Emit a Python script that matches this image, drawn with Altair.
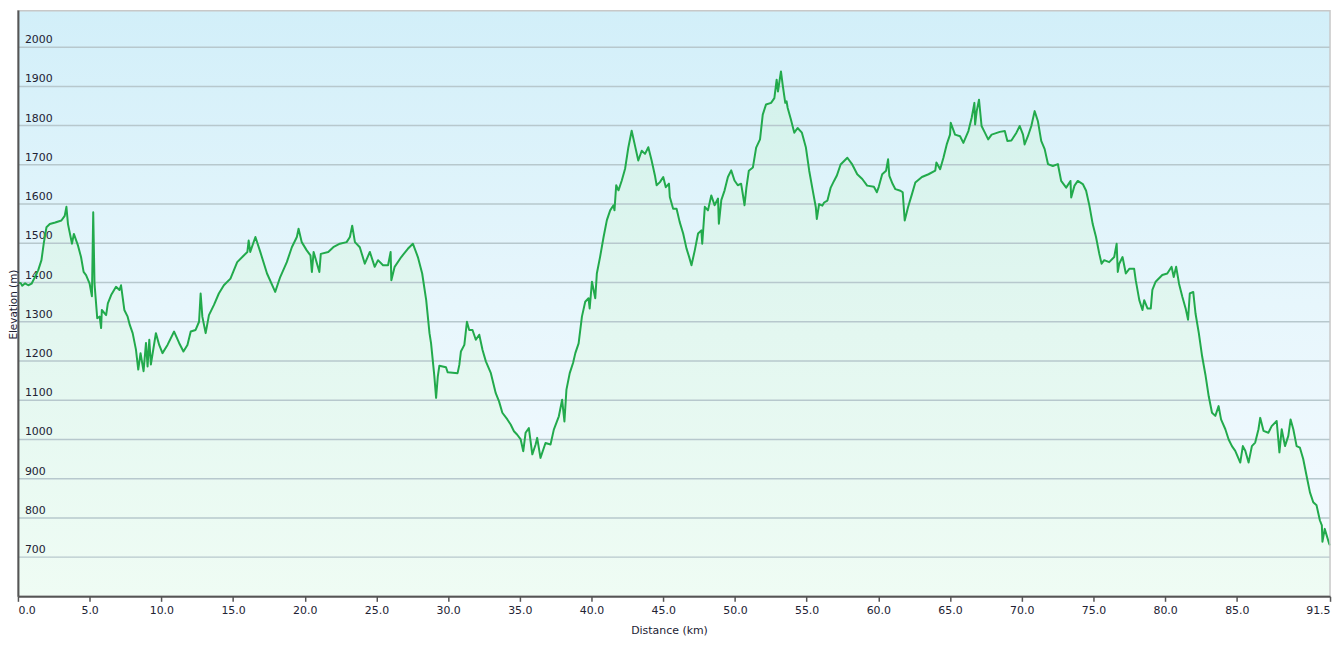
import altair as alt
import pandas as pd

# ---- data ----
km = [0.0, 0.2, 0.3, 0.5, 0.72, 0.95, 1.2, 1.41, 1.64, 1.8, 1.99, 2.22, 2.6, 3.03, 3.26, 3.38, 3.49, 3.77, 3.9,
      4.19, 4.4, 4.58, 4.75, 5.0, 5.16, 5.25, 5.34, 5.53, 5.7, 5.8, 5.85, 6.15, 6.27, 6.5, 6.84, 7.08, 7.19, 7.42,
      7.65, 7.8, 8.0, 8.23, 8.39, 8.55, 8.76, 8.93, 9.04, 9.16, 9.27, 9.62, 9.85, 10.08, 10.43, 10.89, 11.24, 11.54,
      11.82, 12.05, 12.39, 12.63, 12.74, 12.86, 13.09, 13.32, 13.67, 14.01, 14.36, 14.82, 15.29, 15.75, 16.0, 16.09,
      16.2, 16.56, 16.9, 17.37, 17.94, 18.29, 18.75, 19.1, 19.45, 19.57, 19.79, 20.14, 20.4, 20.5, 20.62, 21.02,
      21.12, 21.64, 21.99, 22.45, 22.92, 23.15, 23.31, 23.5, 23.84, 24.19, 24.54, 24.88, 25.11, 25.46, 25.81, 25.99,
      26.04, 26.27, 26.73, 27.19, 27.54, 27.89, 28.19, 28.47, 28.7,
      28.81, 29.04, 29.16, 29.28, 29.39, 29.85, 29.97, 30.66, 30.78, 30.89, 31.13, 31.31, 31.47, 31.7, 31.93, 32.17,
      32.4, 32.63, 32.98, 33.32, 33.55, 33.78, 34.13, 34.36, 34.59, 34.82, 35.06, 35.24, 35.4, 35.63, 35.87, 36.1,
      36.21, 36.44, 36.79, 37.14, 37.37, 37.72, 37.95, 38.11, 38.25, 38.48, 38.71, 38.87, 39.1, 39.33, 39.56, 39.79,
      39.87, 40.03, 40.26, 40.37, 40.6, 40.84, 41.07, 41.3, 41.53, 41.6, 41.72, 41.88, 42.11, 42.34, 42.57, 42.8,
      43.03, 43.26, 43.5, 43.73, 43.96, 44.19, 44.42, 44.54, 44.77, 45.0, 45.18, 45.4, 45.46, 45.69, 45.93, 46.15,
      46.39, 46.62, 46.8, 46.97, 47.2, 47.43, 47.66, 47.72, 47.9, 48.12, 48.35, 48.58, 48.82, 48.88, 49.05, 49.28,
      49.51, 49.74, 49.97, 50.2, 50.43, 50.55, 50.67, 50.8, 50.97, 51.25, 51.48, 51.75, 51.94,
      52.17, 52.52, 52.75, 52.91, 53.0, 53.21, 53.33, 53.51, 53.6, 53.68, 53.9, 54.14, 54.37, 54.67, 54.95, 55.18,
      55.41, 55.64, 55.71, 55.87, 56.1, 56.22, 56.45,
      56.68, 56.91, 57.1, 57.37, 57.84, 58.18, 58.53, 58.88, 59.22, 59.69, 59.9, 60.03, 60.27, 60.54, 60.68, 60.77,
      61.0, 61.19, 61.54, 61.7, 61.84, 62.07, 62.35, 62.58, 63.04, 63.5, 63.97, 64.05, 64.31, 64.54, 64.77, 65.0,
      65.05, 65.35, 65.7, 65.93, 66.28, 66.51, 66.7, 66.75, 66.86, 67.02, 67.2, 67.43, 67.66, 67.9, 68.47, 68.82,
      69.0, 69.28, 69.63, 69.86, 70.09, 70.2, 70.43, 70.67, 70.9, 71.13, 71.36, 71.6, 71.83, 72.17, 72.52, 72.75,
      73.1, 73.4, 73.45, 73.68, 73.91, 74.26, 74.49, 74.72, 74.95, 75.18, 75.41, 75.57, 75.75, 76.1, 76.45, 76.62,
      76.7, 76.8, 77.03, 77.26, 77.5, 77.84, 77.95, 78.2, 78.42, 78.54, 78.77, 79.0, 79.11, 79.34, 79.8, 80.15,
      80.45, 80.6, 80.77, 80.97, 81.2, 81.43, 81.6, 81.72, 81.96, 82.12, 82.35, 82.58, 82.81, 83.04, 83.27, 83.5,
      83.73, 83.9, 84.2, 84.43, 84.66, 84.89, 85.24, 85.42, 85.59, 85.82, 86.05, 86.28, 86.51, 86.63, 86.86, 87.2,
      87.43, 87.78, 87.97, 88.13, 88.36, 88.59, 88.75, 88.94, 89.17, 89.4, 89.63, 89.86, 90.1, 90.33, 90.56, 90.79,
      90.93, 90.97, 91.13, 91.44, 91.5]

elev = [1400, 1398, 1392, 1398, 1393, 1397, 1415, 1431, 1457, 1500, 1541, 1549, 1553, 1558, 1570, 1593, 1549, 1499, 1524,
        1494, 1465, 1427, 1419, 1397, 1365, 1579, 1397, 1309, 1313, 1284, 1330, 1317, 1347, 1368, 1389, 1381, 1393, 1330,
        1313, 1292, 1271, 1229, 1178, 1220, 1174, 1246, 1186, 1254, 1191, 1271, 1241, 1220, 1241, 1275, 1246, 1224,
        1241, 1275, 1279, 1300, 1372, 1313, 1271, 1317, 1343, 1372, 1393, 1410, 1452, 1469, 1478, 1507,
        1478, 1516, 1478, 1423, 1376, 1414, 1452, 1490, 1516, 1537, 1503, 1482, 1469, 1427, 1478, 1427,
        1473, 1478, 1490, 1499, 1503, 1516, 1545, 1503, 1490, 1448, 1478, 1440, 1457, 1444, 1444, 1478,
        1406, 1440, 1465, 1486, 1499, 1465, 1423, 1355, 1271,
        1245, 1161, 1106, 1161, 1188, 1184, 1171, 1169, 1190, 1224, 1241, 1300, 1279, 1279, 1254, 1267,
        1228, 1199, 1169, 1118, 1097, 1068, 1051, 1038, 1021, 1012, 1000, 970, 1017, 1029, 962, 987,
        1004, 953, 991, 987, 1025, 1059, 1101, 1046, 1127, 1169, 1195, 1220, 1245, 1313, 1351, 1360,
        1334, 1402, 1360, 1423, 1466, 1516, 1559, 1584, 1597, 1584, 1648, 1635, 1660, 1690, 1745, 1787,
        1749, 1711, 1736, 1728, 1745, 1711, 1673, 1648, 1656, 1669, 1643, 1652, 1618, 1588, 1588, 1554,
        1525, 1487, 1466, 1444, 1482, 1525, 1533, 1499, 1593, 1584, 1622, 1597, 1614, 1550, 1610, 1635,
        1669, 1686, 1660, 1648, 1652, 1625, 1597, 1642, 1685, 1693, 1744, 1765, 1828,
        1854, 1858, 1870, 1917, 1887, 1938, 1904, 1858, 1862, 1845, 1816, 1782, 1794, 1782, 1744, 1685,
        1638, 1592, 1562, 1600, 1596, 1604, 1609,
        1642, 1659, 1672, 1701, 1718, 1701, 1676, 1664, 1647, 1644, 1630, 1644, 1676, 1685, 1714, 1672,
        1651, 1638, 1634, 1630, 1558, 1592, 1626, 1655, 1669, 1676, 1685, 1706, 1689, 1718, 1752, 1777,
        1807, 1777, 1773, 1756, 1786, 1820, 1858, 1803, 1837, 1866, 1799, 1782, 1765, 1777, 1784, 1786,
        1761, 1762, 1782, 1799, 1777, 1752, 1773, 1799, 1837, 1811, 1761, 1740, 1702, 1697, 1702, 1659,
        1642, 1659, 1617, 1647, 1659, 1651, 1634, 1596, 1549, 1516, 1473, 1448, 1457, 1452, 1465, 1499,
        1427, 1448, 1465, 1423, 1435, 1435, 1406, 1355, 1330, 1355, 1334, 1334, 1381, 1402, 1419, 1423,
        1440, 1414, 1440, 1397, 1364, 1334, 1305, 1372, 1376, 1321, 1271, 1212, 1165, 1110, 1068, 1060,
        1085, 1051, 1026, 1000, 983, 971, 941, 983, 971, 941, 983, 992, 1026, 1055, 1022, 1017,
        1034, 1047, 967, 1026, 983, 1009, 1051, 1026, 983, 979, 950, 908, 865, 840, 832, 794,
        781, 739, 772, 734, 730]

x_ticks = [0, 5, 10, 15, 20, 25, 30, 35, 40, 45, 50, 55, 60, 65, 70, 75, 80, 85, 91.5]
y_ticks = [700, 800, 900, 1000, 1100, 1200, 1300, 1400, 1500, 1600, 1700, 1800, 1900, 2000]
y_floor = 600

# ---- chart ----
W, H = 1320, 590
FONT = "DejaVu Sans"
profile = pd.DataFrame({"km": km, "elev": elev})
grid = pd.DataFrame({"v": y_ticks})

xs = alt.Scale(domain=[0, 91.5], nice=False, zero=False)
ys = alt.Scale(domain=[600, 2095], nice=False, zero=False)

bg_grad = alt.Gradient(
    gradient="linear",
    stops=[alt.GradientStop(color="#d2eff9", offset=0),
           alt.GradientStop(color="#e7f6fc", offset=0.5),
           alt.GradientStop(color="#f5fbff", offset=1)],
    x1=0, x2=0, y1=0, y2=1)

area_grad = alt.Gradient(
    gradient="linear",
    stops=[alt.GradientStop(color="#d3f2ec", offset=0),
           alt.GradientStop(color="#e3f7f0", offset=0.5),
           alt.GradientStop(color="#effcf4", offset=1)],
    x1=0, x2=0, y1=0, y2=1)

one = alt.Data(values=[{"k": 0}])

x_axis = alt.Axis(values=x_ticks, format=".1f", grid=False, domainColor="#555555", domainWidth=2,
                  tickColor="#555555", tickSize=5, tickWidth=1.5, labelFont=FONT, labelFontSize=11,
                  labelColor="#222233", labelPadding=3, labelFlush=True, labelFlushOffset=0,
                  labelOverlap=False,
                  title="Distance  (km)", titleFont=FONT, titleFontSize=11, titleFontWeight="normal",
                  titleColor="#222233", titleX=655, titleY=37, titleBaseline="alphabetic", zindex=1)
y_axis = alt.Axis(labels=False, ticks=False, grid=False, domainColor="#555555", domainWidth=2,
                  title="Elevation (m)", titleFont=FONT, titleFontSize=10.5, titleFontWeight="normal",
                  titleColor="#222233", titleX=-1, titleY=296, titleBaseline="alphabetic",
                  titleAlign="center", titleAngle=270, zindex=1)

background = alt.Chart(one).mark_rect(fill=bg_grad, strokeWidth=0).encode(
    x=alt.value(0), x2=alt.value(W), y=alt.value(0), y2=alt.value(H))

area = alt.Chart(profile).mark_area(fill=area_grad, interpolate="linear").encode(
    x=alt.X("km:Q", scale=xs, axis=x_axis),
    y=alt.Y("elev:Q", scale=ys, axis=y_axis),
    y2=alt.datum(y_floor))

rules = alt.Chart(grid).mark_rule(color="#b7c8cd", strokeWidth=1.5).encode(
    y=alt.Y("v:Q", scale=ys, axis=y_axis))

labels = alt.Chart(grid).mark_text(align="left", baseline="alphabetic", dx=7, dy=-4, font=FONT,
                                   fontSize=11, color="#222233").encode(
    x=alt.value(0),
    y=alt.Y("v:Q", scale=ys, axis=y_axis),
    text=alt.Text("v:Q", format="d"))

line = alt.Chart(profile).mark_line(color="#22aa4c", strokeWidth=2, strokeJoin="round").encode(
    x=alt.X("km:Q", scale=xs, axis=x_axis),
    y=alt.Y("elev:Q", scale=ys, axis=y_axis))

border = alt.Chart(one).mark_rect(fillOpacity=0, stroke="#c8c8c8", strokeWidth=1.5).encode(
    x=alt.value(0), x2=alt.value(W), y=alt.value(0.75), y2=alt.value(H))

chart = alt.layer(background, area, rules, labels, line, border).properties(
    width=W, height=H,
    padding={"left": 10, "top": 0, "right": 5, "bottom": 40},
    autosize=alt.AutoSizeParams(type="none"),
    background="white",
).configure_view(stroke=None)

chart.save("out.html", embed_options={"renderer": "svg", "actions": False})
